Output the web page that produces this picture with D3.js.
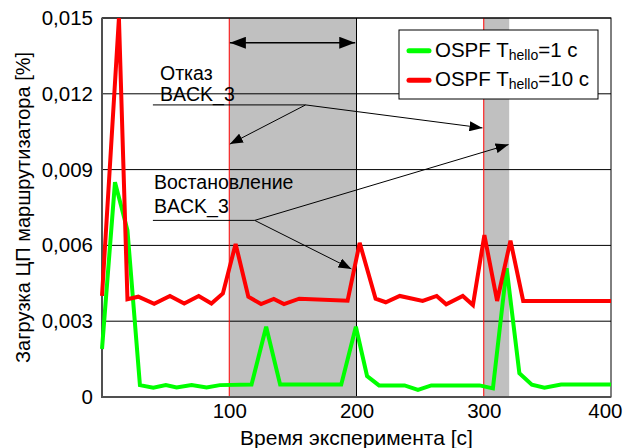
<!DOCTYPE html>
<html>
<head>
<meta charset="utf-8">
<script src="https://cdn.jsdelivr.net/npm/d3@7"></script>
<style>
  body { margin: 0; background: #fff; }
  text { font-family: "Liberation Sans", Arial, sans-serif; fill: #000; }
</style>
</head>
<body>
<div id="canvas"></div>
<script>
// data (time in s, load in %)
var timeFast = [0, 10.2, 20, 29.8, 40.3, 50.2, 58.6, 70.4, 82.2, 92.6, 117.5, 129, 140, 188, 199.5, 208.3, 217.7, 237.8, 248.3, 258.8, 296.7, 307.2, 318, 328, 337.8, 347.7, 360.8, 400];
var loadFast = [0.0019, 0.0085, 0.0066, 0.00047, 0.00037, 0.00047, 0.00038, 0.00047, 0.00038, 0.00047, 0.00049, 0.00278, 0.00049, 0.00049, 0.00278, 0.00083, 0.00046, 0.00046, 0.00028, 0.00046, 0.00046, 0.00034, 0.0051, 0.00094, 0.00049, 0.00037, 0.00049, 0.00049];

var timeSlow = [0, 13.3, 20, 28.5, 41, 53.4, 64.6, 76, 86, 95, 105, 115, 125, 135, 143, 155, 193, 202.5, 215, 223, 234, 252, 263, 270.5, 283.5, 291.5, 300.5, 310.5, 321, 331, 400];
var loadSlow = [0.0040, 0.0150, 0.00387, 0.00397, 0.00369, 0.0040, 0.0037, 0.0040, 0.0037, 0.0041, 0.00606, 0.00397, 0.00368, 0.00388, 0.00368, 0.00389, 0.00381, 0.0061, 0.00389, 0.00375, 0.0040, 0.0038, 0.0040, 0.00367, 0.0040, 0.00364, 0.00641, 0.0038, 0.00619, 0.0038, 0.0038];

var yTicks = [0, 0.003, 0.006, 0.009, 0.012, 0.015];
var xTicks = [100, 200, 300, 400];
var failWindows = [[100, 200], [300, 320]];

var seriesNames = ["=1 с", "=10 с"];

var W = 623, H = 448;
var margin = {top: 18, right: 12, bottom: 51, left: 102};
var width = W - margin.left - margin.right,
    height = H - margin.top - margin.bottom;

var svg = d3.select("#canvas").append("svg")
  .attr("width", W).attr("height", H);

var defs = svg.append("defs");
function arrowMarker(id, len, half) {
  defs.append("marker")
    .attr("id", id)
    .attr("markerUnits", "userSpaceOnUse")
    .attr("viewBox", "0 0 " + len + " " + (half * 2))
    .attr("refX", len).attr("refY", half)
    .attr("markerWidth", len).attr("markerHeight", half * 2)
    .attr("orient", "auto-start-reverse")
    .append("path")
    .attr("d", "M0,0L" + len + "," + half + "L0," + (half * 2) + "Z")
    .attr("fill", "#000");
}
arrowMarker("tip", 13, 5);
arrowMarker("bigtip", 16, 6);

var g = svg.append("g")
  .attr("transform", "translate(" + margin.left + "," + margin.top + ")");

var x = d3.scaleLinear().domain([0, 400]).range([0, width]);
var y = d3.scaleLinear().domain([0, 0.015]).range([height, 0]);

// shaded failure windows
g.selectAll(".win").data(failWindows).enter().append("rect")
  .attr("x", function(d) { return x(d[0]); })
  .attr("y", 0)
  .attr("width", function(d) { return x(d[1]) - x(d[0]); })
  .attr("height", height)
  .attr("fill", "#c0c0c0");

// horizontal grid
g.selectAll(".grid").data(yTicks.slice(1)).enter().append("line")
  .attr("x1", 0).attr("x2", width)
  .attr("y1", function(d) { return y(d); })
  .attr("y2", function(d) { return y(d); })
  .attr("stroke", "#000").attr("stroke-width", 1);

// window borders
g.selectAll(".wl").data(failWindows).enter().append("line")
  .attr("x1", function(d) { return x(d[0]); })
  .attr("x2", function(d) { return x(d[0]); })
  .attr("y1", 0).attr("y2", height)
  .attr("stroke", "#ff0000").attr("stroke-width", 1);
g.append("line")
  .attr("x1", x(200)).attr("x2", x(200))
  .attr("y1", 0).attr("y2", height)
  .attr("stroke", "#000").attr("stroke-width", 1);

// frame
g.append("rect").attr("width", width).attr("height", height)
  .attr("fill", "none").attr("stroke", "#000").attr("stroke-width", 1);
g.append("path")
  .attr("d", "M0,0V" + height + "H" + width)
  .attr("fill", "none").attr("stroke", "#505050").attr("stroke-width", 2);

// axes
var fmt = function(d) { return d === 0 ? "0" : d3.format(".3f")(d).replace(".", ","); };
var yAxis = g.append("g")
  .call(d3.axisLeft(y).tickValues(yTicks).tickFormat(fmt).tickSize(0).tickPadding(9));
yAxis.select(".domain").remove();
yAxis.selectAll("text").style("font-size", "20.5px").attr("font-family", null);

var xAxis = g.append("g")
  .attr("transform", "translate(0," + height + ")")
  .call(d3.axisBottom(x).tickValues(xTicks).tickFormat(d3.format("d")).tickSize(0).tickPadding(6));
xAxis.select(".domain").remove();
xAxis.selectAll("text").style("font-size", "20.5px").attr("font-family", null);
// last label sits on the right edge; keep it inside the page
xAxis.selectAll("text").filter(function(d) { return d === 400; })
  .attr("text-anchor", "end").attr("x", W - margin.left - 1 - x(400));

// axis titles
svg.append("text")
  .attr("x", margin.left + width / 2).attr("y", 445)
  .attr("text-anchor", "middle")
  .style("font-size", "21px")
  .text("Время эксперимента [с]");
svg.append("text")
  .attr("transform", "translate(30," + (margin.top + height / 2) + ") rotate(-90)")
  .attr("text-anchor", "middle")
  .style("font-size", "20px")
  .text("Загрузка ЦП маршрутизатора [%]");

// annotations
function seg(t1, v1, t2, v2, marker, sw) {
  var l = g.append("line")
    .attr("x1", x(t1)).attr("y1", y(v1))
    .attr("x2", x(t2)).attr("y2", y(v2))
    .attr("stroke", "#000").attr("stroke-width", sw || 1);
  if (marker) l.attr("marker-end", "url(#" + marker + ")");
  return l;
}
seg(100.5, 0.01402, 199, 0.01402, "bigtip", 1.5).attr("marker-start", "url(#bigtip)");

seg(40, 0.01156, 160, 0.01156);
seg(160, 0.01156, 100.5, 0.01001, "tip");
seg(160, 0.01156, 299, 0.01065, "tip");

seg(40, 0.00699, 120, 0.00699);
seg(120, 0.00699, 196, 0.00507, "tip");
seg(120, 0.00699, 319.5, 0.00999, "tip");

var notes = [
  {t: "Отказ", x: 160, y: 79.5},
  {t: "BACK_3", x: 160, y: 101},
  {t: "Востановление", x: 154, y: 189},
  {t: "BACK_3", x: 154, y: 212.5}
];
svg.selectAll(".note").data(notes).enter().append("text")
  .attr("x", function(d) { return d.x; })
  .attr("y", function(d) { return d.y; })
  .style("font-size", "19.5px")
  .text(function(d) { return d.t; });

// series
var line = d3.line()
  .x(function(d) { return x(d[0]); })
  .y(function(d) { return y(d[1]); });

g.append("path")
  .datum(d3.zip(timeFast, loadFast))
  .attr("d", line)
  .attr("fill", "none").attr("stroke", "#00ff00")
  .attr("stroke-width", 4).attr("stroke-linejoin", "miter");

g.append("path")
  .datum(d3.zip(timeSlow, loadSlow))
  .attr("d", line)
  .attr("fill", "none").attr("stroke", "#ff0000")
  .attr("stroke-width", 4).attr("stroke-linejoin", "miter");

// legend
var lg = svg.append("g").attr("transform", "translate(399,30)");
lg.append("rect").attr("width", 199).attr("height", 69)
  .attr("fill", "#fff").attr("stroke", "#000").attr("stroke-width", 1);
var colors = ["#00ff00", "#ff0000"];
seriesNames.forEach(function(name, i) {
  var yy = 20.7 + i * 29.5;
  lg.append("line")
    .attr("x1", 10).attr("x2", 30).attr("y1", yy).attr("y2", yy)
    .attr("stroke", colors[i]).attr("stroke-width", 5).attr("stroke-linecap", "round");
  var t = lg.append("text").attr("x", 36).attr("y", yy + 6).style("font-size", "20.5px");
  t.append("tspan").text("OSPF T");
  t.append("tspan").attr("dy", 3).style("font-size", "14px").text("hello");
  t.append("tspan").attr("dy", -3).text(name);
});
</script>
</body>
</html>
